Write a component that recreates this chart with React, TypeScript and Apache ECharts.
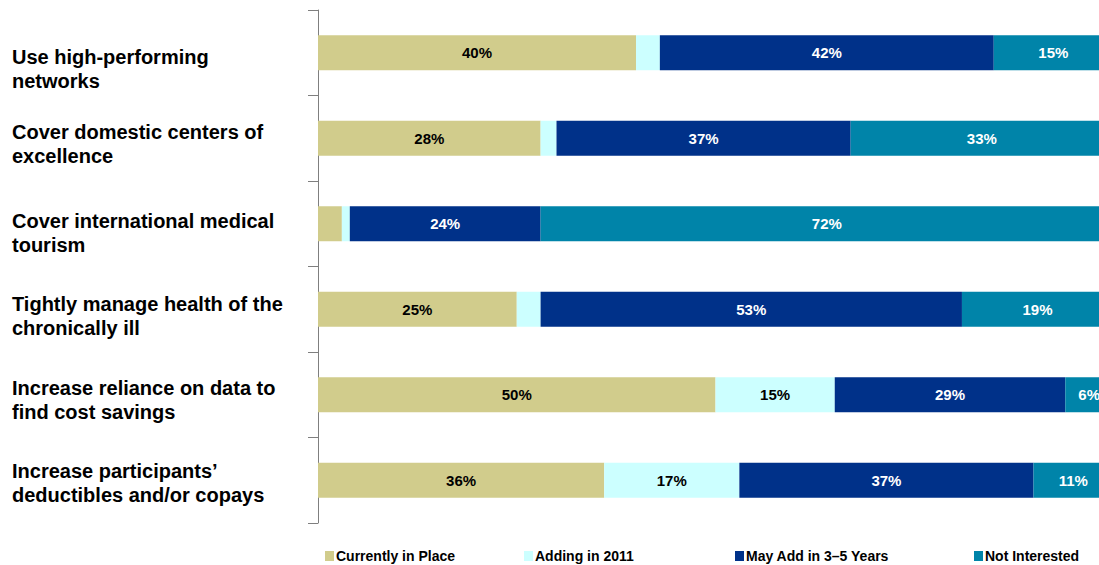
import React, { useEffect, useRef } from "react";
import * as echarts from "echarts";

const categories = [
  "Use high-performing\nnetworks",
  "Cover domestic centers of\nexcellence",
  "Cover international medical\ntourism",
  "Tightly manage health of the\nchronically ill",
  "Increase reliance on data to\nfind cost savings",
  "Increase participants’\ndeductibles and/or copays",
];
const labelShift = [16, 6, 9, 7, 5, 3];

const seriesNames = ["Currently in Place", "Adding in 2011", "May Add in 3–5 Years", "Not Interested"];
const currentlyInPlace = [40, 28, 3, 25, 50, 36];
const addingIn2011 = [3, 2, 1, 3, 15, 17];
const mayAdd3to5 = [42, 37, 24, 53, 29, 37];
const notInterested = [15, 33, 72, 19, 6, 11];

const colors = ["#D1CC8C", "#CCFFFF", "#003189", "#0084A9"];
const labelColors = ["#000000", "#000000", "#FFFFFF", "#FFFFFF"];
const legendLeft = [325, 524, 735, 974];

export default function App() {
  const ref = useRef<HTMLDivElement>(null);
  useEffect(() => {
    if (!ref.current) return;
    const chart = echarts.init(ref.current, undefined, { renderer: "svg" });
    const values = [currentlyInPlace, addingIn2011, mayAdd3to5, notInterested];
    const font = "Arial, 'Liberation Sans', sans-serif";
    const rich: any = {
      t: { fontSize: 20, fontWeight: "bold", color: "#000", fontFamily: font, lineHeight: 24, align: "left" },
    };
    labelShift.forEach((s, i) => {
      rich["sp" + i] = { fontSize: 1, height: s * 2, lineHeight: s * 2, align: "left" };
    });
    chart.setOption({
      animation: false,
      backgroundColor: "#ffffff",
      grid: { left: 318, right: -14, top: 10, bottom: 42, containLabel: false, outerBoundsMode: "none" },
      xAxis: { type: "value", min: 0, max: 100, show: false },
      yAxis: {
        type: "category",
        inverse: true,
        data: categories,
        axisLine: { show: true, lineStyle: { color: "#7f7f7f", width: 1 } },
        axisTick: { show: true, length: 10, lineStyle: { color: "#7f7f7f" } },
        axisLabel: {
          margin: 306,
          align: "left",
          fontSize: 20,
          fontWeight: "bold",
          color: "#000000",
          fontFamily: font,
          lineHeight: 24,
          formatter: (v: string, idx: number) =>
            "{sp" + idx + "| }\n" + v.split("\n").map((l) => "{t|" + l + "}").join("\n"),
          rich,
        },
      },
      legend: seriesNames.map((n, i) => ({
        data: [n],
        left: legendLeft[i],
        top: 549,
        padding: 0,
        itemWidth: 9,
        itemHeight: 10,
        itemGap: 4,
        icon: "rect",
        textStyle: { fontSize: 14, fontWeight: "bold", color: "#000", fontFamily: font, padding: [0, 0, 0, -3] },
      })),
      series: seriesNames.map((n, i) => ({
        name: n,
        type: "bar",
        stack: "total",
        barWidth: 35,
        data: values[i],
        itemStyle: { color: colors[i] },
        label: {
          show: true,
          position: "inside",
          color: labelColors[i],
          fontSize: 15,
          fontWeight: "bold",
          fontFamily: font,
          formatter: (p: any) => (p.value >= 5 ? p.value + "%" : ""),
        },
      })),
    });
    return () => chart.dispose();
  }, []);
  return (
    <div
      ref={ref}
      style={{ position: "fixed", left: 0, top: 0, width: 1099, height: 565 }}
    />
  );
}
